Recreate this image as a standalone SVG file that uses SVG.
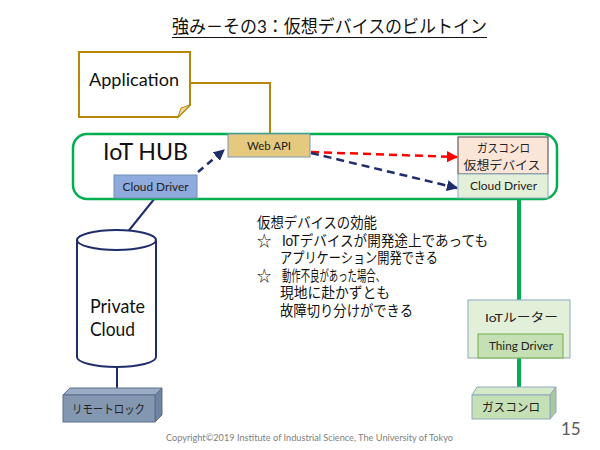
<svg xmlns="http://www.w3.org/2000/svg" width="600" height="450" viewBox="0 0 600 450">
<defs>
<style>
.jp{font-family:"Lato","Noto Sans CJK JP",sans-serif;}
.lbl{font-family:"Lato","Noto Sans CJK JP",sans-serif;font-size:12px;fill:#222;text-anchor:middle;}
.body{font-family:"Lato","Noto Sans CJK JP",sans-serif;font-size:14.5px;fill:#111;}
.navy{stroke:#1F2D6B;fill:none;}
</style>
<marker id="ahNavy" viewBox="0 0 10 10" refX="9" refY="5" markerWidth="4.5" markerHeight="4.5" orient="auto"><path d="M0,0 L10,5 L0,10 z" fill="#1F2D6B"/></marker>
<marker id="ahRed" viewBox="0 0 10 10" refX="9" refY="5" markerWidth="4.5" markerHeight="4.5" orient="auto"><path d="M0,0 L10,5 L0,10 z" fill="#FF0000"/></marker>
</defs>
<rect width="600" height="450" fill="#fff"/>

<g id="title">
<text x="172" y="33" class="jp" font-size="18" fill="#111" textLength="315" lengthAdjust="spacingAndGlyphs">強み－その3：仮想デバイスのビルトイン</text>
<line x1="172" y1="37.5" x2="487" y2="37.5" stroke="#111" stroke-width="1.2"/>
</g>

<g id="connectors">
<polyline points="190,83 270,83 270,134" fill="none" stroke="#B8860B" stroke-width="2"/>
<line x1="198" y1="172" x2="224" y2="150" class="navy" stroke-width="2.5" stroke-dasharray="7,5" marker-end="url(#ahNavy)"/>
<line x1="311" y1="152" x2="457" y2="157" stroke="#FF0000" fill="none" stroke-width="2.5" stroke-dasharray="8,5" marker-end="url(#ahRed)"/>
<line x1="311" y1="153" x2="457" y2="188" class="navy" stroke-width="2.5" stroke-dasharray="8,5" marker-end="url(#ahNavy)"/>
<line x1="155" y1="198" x2="122" y2="239" class="navy" stroke-width="2"/>
<line x1="117" y1="366" x2="117" y2="390" class="navy" stroke-width="2"/>
<line x1="519" y1="199" x2="519" y2="300" stroke="#00B050" stroke-width="4"/>
<line x1="519" y1="358" x2="519" y2="390" stroke="#00B050" stroke-width="4"/>
</g>

<g id="application">
<path d="M79,52 L190,52 L190,105 L178,117 L79,117 Z" fill="#fff" stroke="#B8860B" stroke-width="2"/>
<path d="M190,105 L181,108 L178,117 Z" fill="#E8D9A8" stroke="#B8860B" stroke-width="1"/>
<text x="89" y="86" class="jp" font-size="18" fill="#111" textLength="90" lengthAdjust="spacingAndGlyphs">Application</text>
</g>

<g id="iot-hub">
<rect x="73" y="134" width="484" height="65" rx="14" fill="none" stroke="#00B050" stroke-width="2.5"/>
<text x="103" y="160" class="jp" font-size="23" fill="#111" textLength="85" lengthAdjust="spacingAndGlyphs">IoT HUB</text>
</g>

<g id="web-api">
<rect x="228" y="134" width="82" height="23" fill="#E5C97E" stroke="#7F96B5" stroke-width="1"/>
<text x="269" y="150" class="lbl" textLength="44" lengthAdjust="spacingAndGlyphs">Web API</text>
</g>

<g id="cloud-driver-left">
<rect x="114" y="175" width="83" height="23" fill="#8FAADC" stroke="#6F8FB0" stroke-width="1"/>
<text x="155.5" y="191" class="lbl" textLength="66" lengthAdjust="spacingAndGlyphs">Cloud Driver</text>
</g>

<g id="virtual-device">
<rect x="458" y="137" width="90" height="37" fill="#FBE5D6" stroke="#404040" stroke-width="1"/>
<text x="503.5" y="153" class="lbl" font-size="13.5" textLength="53" lengthAdjust="spacingAndGlyphs">ガスコンロ</text>
<text x="502" y="169.5" class="lbl" font-size="13.5" textLength="77" lengthAdjust="spacingAndGlyphs">仮想デバイス</text>
</g>

<g id="cloud-driver-right">
<rect x="458" y="174" width="90" height="24" fill="#E2F0D9" stroke="#8EA9C1" stroke-width="1"/>
<text x="503.5" y="190" class="lbl" textLength="67" lengthAdjust="spacingAndGlyphs">Cloud Driver</text>
</g>

<g id="private-cloud">
<path d="M77,240 L77,357 A39.5,10 0 0 0 156,357 L156,240" fill="#fff" stroke="#1F2D6B" stroke-width="2"/>
<ellipse cx="116.5" cy="240" rx="39.5" ry="10" fill="#fff" stroke="#1F2D6B" stroke-width="2"/>
<text x="90" y="313" class="jp" font-size="19" fill="#111" textLength="55" lengthAdjust="spacingAndGlyphs">Private</text>
<text x="90" y="336" class="jp" font-size="19" fill="#111" textLength="45" lengthAdjust="spacingAndGlyphs">Cloud</text>
</g>

<g id="remote-lock">
<path d="M63,395 L70,388 L162,388 L155,395 Z" fill="#9AABC4" stroke="#5A6F90" stroke-width="1"/>
<path d="M155,395 L162,388 L162,415 L155,422 Z" fill="#6F84A3" stroke="#5A6F90" stroke-width="1"/>
<rect x="63" y="395" width="92" height="27" fill="#8497B0" stroke="#5A6F90" stroke-width="1"/>
<text x="108.5" y="414" class="lbl" font-size="13.5" fill="#111" textLength="73" lengthAdjust="spacingAndGlyphs">リモートロック</text>
</g>

<g id="notes">
<text x="257" y="228" class="body" textLength="120" lengthAdjust="spacingAndGlyphs">仮想デバイスの効能</text>
<text x="257" y="246" class="body" font-size="13">☆</text>
<text x="282" y="246" class="body" textLength="206" lengthAdjust="spacingAndGlyphs">IoTデバイスが開発途上であっても</text>
<text x="280" y="263" class="body" textLength="158" lengthAdjust="spacingAndGlyphs">アプリケーション開発できる</text>
<text x="257" y="281" class="body" font-size="13">☆</text>
<text x="282" y="281" class="body" textLength="103" lengthAdjust="spacingAndGlyphs">動作不良があった場合、</text>
<text x="280" y="298" class="body" textLength="110" lengthAdjust="spacingAndGlyphs">現地に赴かずとも</text>
<text x="280" y="316" class="body" textLength="133" lengthAdjust="spacingAndGlyphs">故障切り分けができる</text>
</g>

<g id="iot-router">
<rect x="468" y="300" width="102" height="58" fill="#E2F0D9" stroke="#8EA9C1" stroke-width="1"/>
<text x="521.5" y="322" class="lbl" font-size="14" fill="#111" textLength="73" lengthAdjust="spacingAndGlyphs">IoTルーター</text>
</g>

<g id="thing-driver">
<rect x="478" y="334" width="85" height="24" fill="#C5E0B4" stroke="#70AD47" stroke-width="1"/>
<text x="521" y="350" class="lbl" textLength="64" lengthAdjust="spacingAndGlyphs">Thing Driver</text>
</g>

<g id="gas-stove">
<path d="M472,395 L477,387 L556,387 L550,395 Z" fill="#D5E8C8" stroke="#8EA9C1" stroke-width="1"/>
<path d="M550,395 L556,387 L556,412 L550,419 Z" fill="#A9C99A" stroke="#8EA9C1" stroke-width="1"/>
<rect x="472" y="395" width="78" height="24" fill="#C5E0B4" stroke="#8EA9C1" stroke-width="1"/>
<text x="511" y="412" class="lbl" font-size="13.5" fill="#111" textLength="58" lengthAdjust="spacingAndGlyphs">ガスコンロ</text>
</g>

<g id="footer">
<text x="166" y="441" class="jp" font-size="9" fill="#808080" textLength="287" lengthAdjust="spacingAndGlyphs">Copyright©2019 Institute of Industrial Science, The University of Tokyo</text>
<text x="561" y="435" class="jp" font-size="17" fill="#595959">15</text>
</g>
</svg>
